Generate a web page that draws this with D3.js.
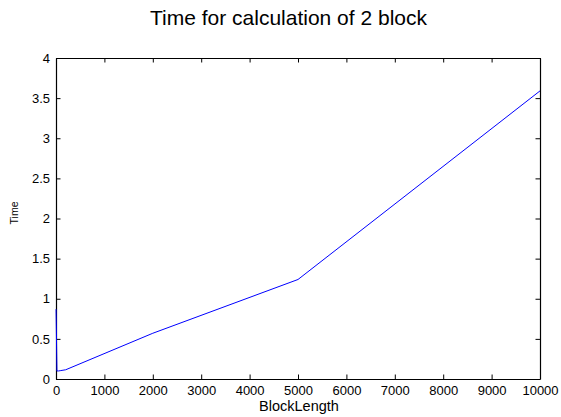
<!DOCTYPE html>
<html>
<head>
<meta charset="utf-8">
<script src="https://cdn.jsdelivr.net/npm/d3@7"></script>
<style>
  html, body { margin: 0; padding: 0; background: #fff; }
  svg { display: block; }
  text { font-family: "Liberation Sans", Arial, sans-serif; fill: #000; }
</style>
</head>
<body>
<svg id="chart" width="561" height="417"></svg>
<script>
const blockLength = [1, 20, 50, 100, 200, 2000, 5000, 10000];
const timeValues  = [0.87, 0.10, 0.10, 0.105, 0.115, 0.57, 1.24, 3.59];
const xTicks = [0, 1000, 2000, 3000, 4000, 5000, 6000, 7000, 8000, 9000, 10000];
const yTicks = [0, 0.5, 1, 1.5, 2, 2.5, 3, 3.5, 4];
const titleText = "Time for calculation of 2 block";
const xLabelText = "BlockLength";
const yLabelText = "Time";

const svg = d3.select("#chart");
const L = 56, R = 540, T = 58, B = 379;

const x = d3.scaleLinear().domain([0, 10000]).range([L, R]);
const y = d3.scaleLinear().domain([0, 4]).range([B, T]);

const tickLen = 4.5;
const fmtY = d3.format("");

// bottom axis
const gx = svg.append("g").attr("transform", `translate(0,${B})`)
  .call(d3.axisBottom(x).tickValues(xTicks).tickSizeInner(-tickLen).tickSizeOuter(0).tickPadding(7).tickFormat(d3.format("d")));
// left axis
const gy = svg.append("g").attr("transform", `translate(${L},0)`)
  .call(d3.axisLeft(y).tickValues(yTicks).tickSizeInner(-tickLen).tickSizeOuter(0).tickPadding(6).tickFormat(d => String(d)));
// top axis (ticks only)
const gt = svg.append("g").attr("transform", `translate(0,${T})`)
  .call(d3.axisTop(x).tickValues(xTicks).tickSizeInner(-tickLen).tickSizeOuter(0).tickFormat(""));
// right axis (ticks only)
const gr = svg.append("g").attr("transform", `translate(${R},0)`)
  .call(d3.axisRight(y).tickValues(yTicks).tickSizeInner(-tickLen).tickSizeOuter(0).tickFormat(""));

[gx, gy, gt, gr].forEach(g => {
  g.selectAll(".domain").attr("stroke", "#000").attr("stroke-width", 1.2);
  g.selectAll(".tick line").attr("stroke", "#000").attr("stroke-width", 1);
  g.selectAll(".tick text").attr("font-family", "Liberation Sans, Arial, sans-serif").attr("font-size", 13).attr("fill", "#000");
});

// line
const line = d3.line().x((d, i) => x(blockLength[i])).y((d, i) => y(timeValues[i]));
svg.append("path")
  .datum(timeValues)
  .attr("d", line)
  .attr("fill", "none")
  .attr("stroke", "#0000ff")
  .attr("stroke-width", 1);

// title
svg.append("text")
  .attr("x", 288.5).attr("y", 25)
  .attr("text-anchor", "middle")
  .attr("font-size", 21)
  .text(titleText);

// x label
svg.append("text")
  .attr("x", 299).attr("y", 411)
  .attr("text-anchor", "middle")
  .attr("font-size", 14.5)
  .text(xLabelText);

// y label
svg.append("text")
  .attr("transform", "translate(18,213) rotate(-90)")
  .attr("text-anchor", "middle")
  .attr("font-size", 10.5)
  .text(yLabelText);
</script>
</body>
</html>
